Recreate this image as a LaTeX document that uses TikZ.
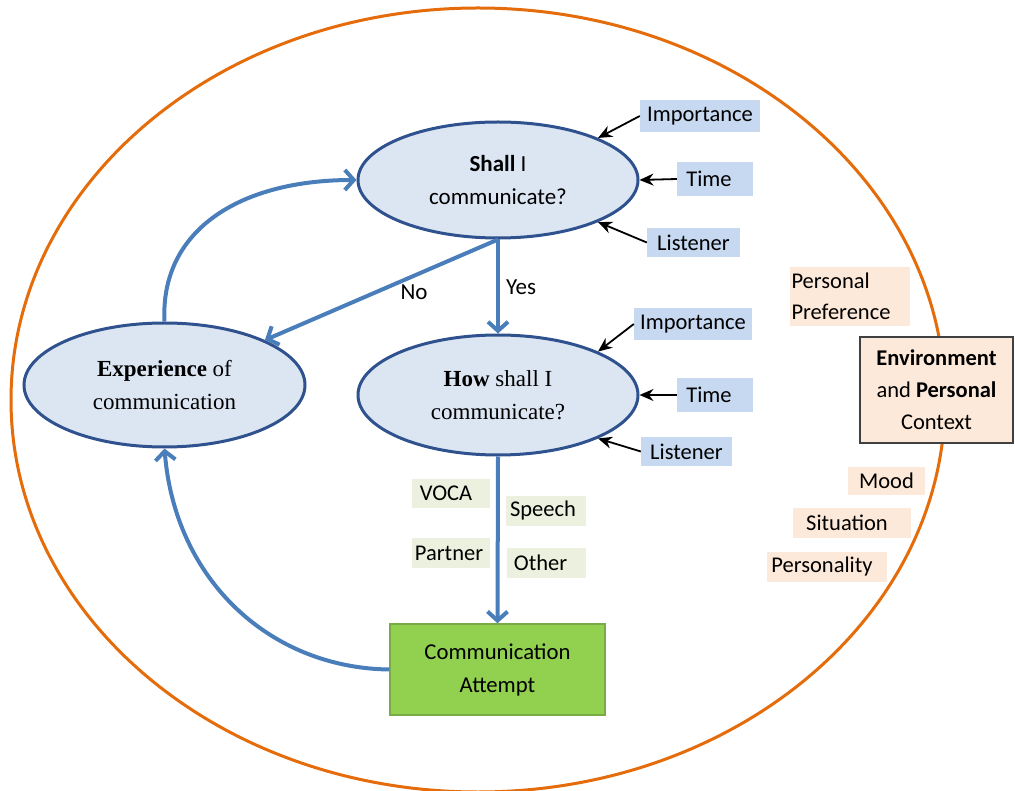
\documentclass[tikz,border=0pt]{standalone}
\usepackage{fontspec}
\setmainfont{Carlito}
\newfontfamily\timesf{Liberation Serif}
\usetikzlibrary{shapes.geometric,arrows.meta}
\definecolor{orangeC}{RGB}{228,108,10}
\definecolor{ellFill}{RGB}{220,230,242}
\definecolor{ellDraw}{RGB}{47,82,143}
\definecolor{conn}{RGB}{74,126,187}
\definecolor{blueLab}{RGB}{198,217,241}
\definecolor{peachLab}{RGB}{253,233,217}
\definecolor{greenLab}{RGB}{235,241,222}
\definecolor{attFill}{RGB}{146,208,80}
\definecolor{attDraw}{RGB}{120,170,70}
\tikzset{
  bubble/.style={ellipse, draw=ellDraw, fill=ellFill, line width=3pt, minimum width=280pt, inner sep=0pt, align=center, font=\fontsize{23}{33}\selectfont},
  bluelab/.style={fill=blueLab, inner sep=0pt, font=\fontsize{22.5}{26}\selectfont},
  peachlab/.style={fill=peachLab, inner sep=0pt, align=left, font=\fontsize{22.5}{31}\selectfont},
  greenlab/.style={fill=greenLab, inner sep=0pt, font=\fontsize{22.5}{26}\selectfont},
  flow/.style={draw=conn, line width=4pt, -{Straight Barb[length=9pt,width=20pt]}},
  pointer/.style={draw=black, line width=1.8pt, -{Stealth[length=14pt,width=12pt]}},
  tag/.style={font=\fontsize{23}{26}\selectfont, inner sep=0pt}
}
\begin{document}
\begin{tikzpicture}[x=1pt,y=-1pt]
\useasboundingbox (0,0) rectangle (1015,791);
\draw[orangeC, line width=3pt] (478,400) ellipse [x radius=467pt, y radius=392pt];

% main ellipses
\node[bubble, minimum height=116pt] (shall) at (498,180) {\textbf{Shall} I\\communicate?};
\node[bubble, minimum height=120pt, font=\timesf\fontsize{23}{33}\selectfont] (how) at (498,395) {\textbf{How} shall I\\communicate?};
\node[bubble, minimum height=124pt, minimum width=281pt, font=\timesf\fontsize{23}{33}\selectfont] (exp) at (164.5,385) {\textbf{Experience} of\\communication};

% communication attempt
\node[draw=attDraw, fill=attFill, line width=1.5pt, minimum width=215pt, minimum height=91pt, align=center, font=\fontsize{22.7}{33}\selectfont] (att) at (497.5,669.5) {Communication\\Attempt};

% environment box
\node[draw=black!75, fill=peachLab, line width=1.5pt, minimum width=153pt, minimum height=106pt, align=center, font=\fontsize{22.5}{32}\selectfont] (env) at (936.5,390) {\textbf{Environment}\\and \textbf{Personal}\\Context};

% blue labels (shall)
\node[bluelab, minimum width=120pt, minimum height=32pt] (imp1) at (700,116) {Importance};
\node[bluelab, minimum width=76pt, minimum height=34pt] (time1) at (715,179) {\hspace*{-12pt}Time};
\node[bluelab, minimum width=93pt, minimum height=29pt] (lis1) at (693.5,242.5) {Listener};
% blue labels (how)
\node[bluelab, minimum width=118pt, minimum height=32pt] (imp2) at (693,324) {Importance};
\node[bluelab, minimum width=76pt, minimum height=34pt] (time2) at (715,395) {\hspace*{-12pt}Time};
\node[bluelab, minimum width=91pt, minimum height=29pt] (lis2) at (686.5,451.5) {Listener};

% black pointer arrows
\draw[pointer] (imp1.west) -- (shall.north east);
\draw[pointer] (time1.west) -- (shall.east);
\draw[pointer] (lis1.west) -- (shall.south east);
\draw[pointer] (imp2.west) -- (how.north east);
\draw[pointer] (time2.west) -- (how.east);
\draw[pointer] (lis2.west) -- (how.south east);

% peach labels
\node[peachlab, minimum width=120pt, minimum height=59pt, text width=117pt] (pref) at (850,296.5) {Personal\\Preference};
\node[peachlab, minimum width=77pt, minimum height=28pt] (mood) at (886.5,481) {Mood};
\node[peachlab, minimum width=118pt, minimum height=30pt] (sit) at (852,523) {\hspace*{-10pt}Situation};
\node[peachlab, minimum width=120pt, minimum height=30pt] (pers) at (827,567) {\hspace*{-10pt}Personality};

% green labels
\node[greenlab, minimum width=78pt, minimum height=29pt] (voca) at (451,493.5) {\hspace*{-10pt}VOCA};
\node[greenlab, minimum width=80pt, minimum height=30pt] (speech) at (546,511) {\hspace*{-6pt}Speech};
\node[greenlab, minimum width=78pt, minimum height=30pt] (partner) at (451,553) {\hspace*{-4pt}Partner};
\node[greenlab, minimum width=79pt, minimum height=30pt] (other) at (546.5,563) {\hspace*{-12pt}Other};

% flow connectors
\draw[flow] (shall.south) -- (how.north);
\draw[flow] (shall.south) -- (exp.north east);
\draw[flow] (exp.north) .. controls (160,230) and (240,180) .. (shall.west);
\draw[flow] (how.south) -- (att.north);
\draw[flow] (att.west) .. controls (270,668) and (175,580) .. (exp.south);

\node[tag] (yes) at (521,287) {Yes};
\node[tag] (no) at (414,292) {No};
\end{tikzpicture}
\end{document}
